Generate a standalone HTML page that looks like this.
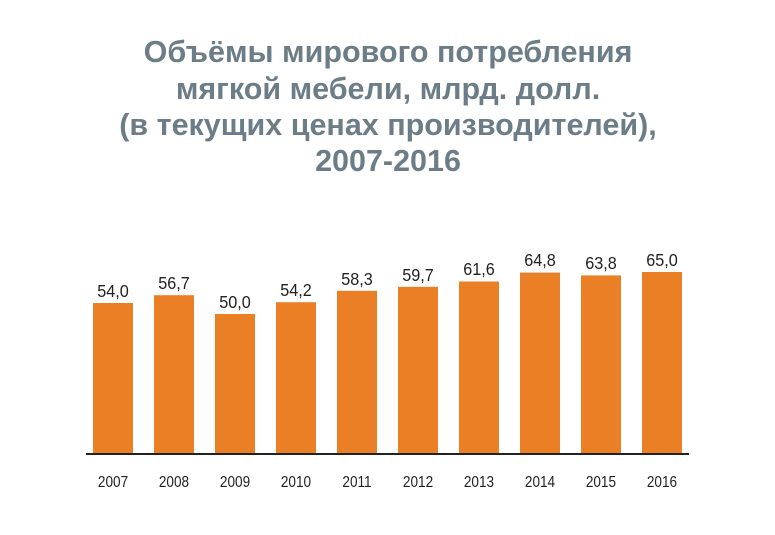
<!DOCTYPE html>
<html><head><meta charset="utf-8"><style>
body{margin:0;width:775px;height:530px;background:#fff;overflow:hidden;font-family:"Liberation Sans",sans-serif}
</style></head><body>
<svg width="775" height="530" xmlns="http://www.w3.org/2000/svg">
<g font-family="Liberation Sans, sans-serif" font-weight="bold" font-size="30.5" fill="#6c7d88" text-anchor="middle">
<text x="388" y="62">Объёмы мирового потребления</text>
<text x="388" y="99">мягкой мебели, млрд. долл.</text>
<text x="388" y="135">(в текущих ценах производителей),</text>
<text x="388" y="171">2007-2016</text>
</g>
<g fill="#ea7f26">
<rect x="93" y="303" width="40" height="151"/>
<rect x="154" y="295.2" width="40" height="158.8"/>
<rect x="215" y="314" width="40" height="140"/>
<rect x="276" y="302.2" width="40" height="151.8"/>
<rect x="337" y="290.8" width="40" height="163.2"/>
<rect x="398" y="286.8" width="40" height="167.2"/>
<rect x="459" y="281.5" width="40" height="172.5"/>
<rect x="520" y="272.6" width="40" height="181.4"/>
<rect x="581" y="275.4" width="40" height="178.6"/>
<rect x="642" y="272" width="40" height="182"/>
</g>
<rect x="86" y="453" width="603" height="2" fill="#222"/>
<g font-size="18" fill="#222" text-anchor="middle" transform="scale(0.9,1)">
<text x="125.6" y="297">54,0</text>
<text x="193.3" y="289">56,7</text>
<text x="261.1" y="308">50,0</text>
<text x="328.9" y="296">54,2</text>
<text x="396.7" y="285">58,3</text>
<text x="464.4" y="281">59,7</text>
<text x="532.2" y="275">61,6</text>
<text x="600" y="266">64,8</text>
<text x="667.8" y="269">63,8</text>
<text x="735.6" y="266">65,0</text>
</g>
<g font-size="16" fill="#222" text-anchor="middle" transform="scale(0.85,1)">
<text x="133" y="487">2007</text>
<text x="204.7" y="487">2008</text>
<text x="276.5" y="487">2009</text>
<text x="348.2" y="487">2010</text>
<text x="420" y="487">2011</text>
<text x="491.8" y="487">2012</text>
<text x="563.5" y="487">2013</text>
<text x="635.3" y="487">2014</text>
<text x="707" y="487">2015</text>
<text x="778.8" y="487">2016</text>
</g>
</svg>
</body></html>
